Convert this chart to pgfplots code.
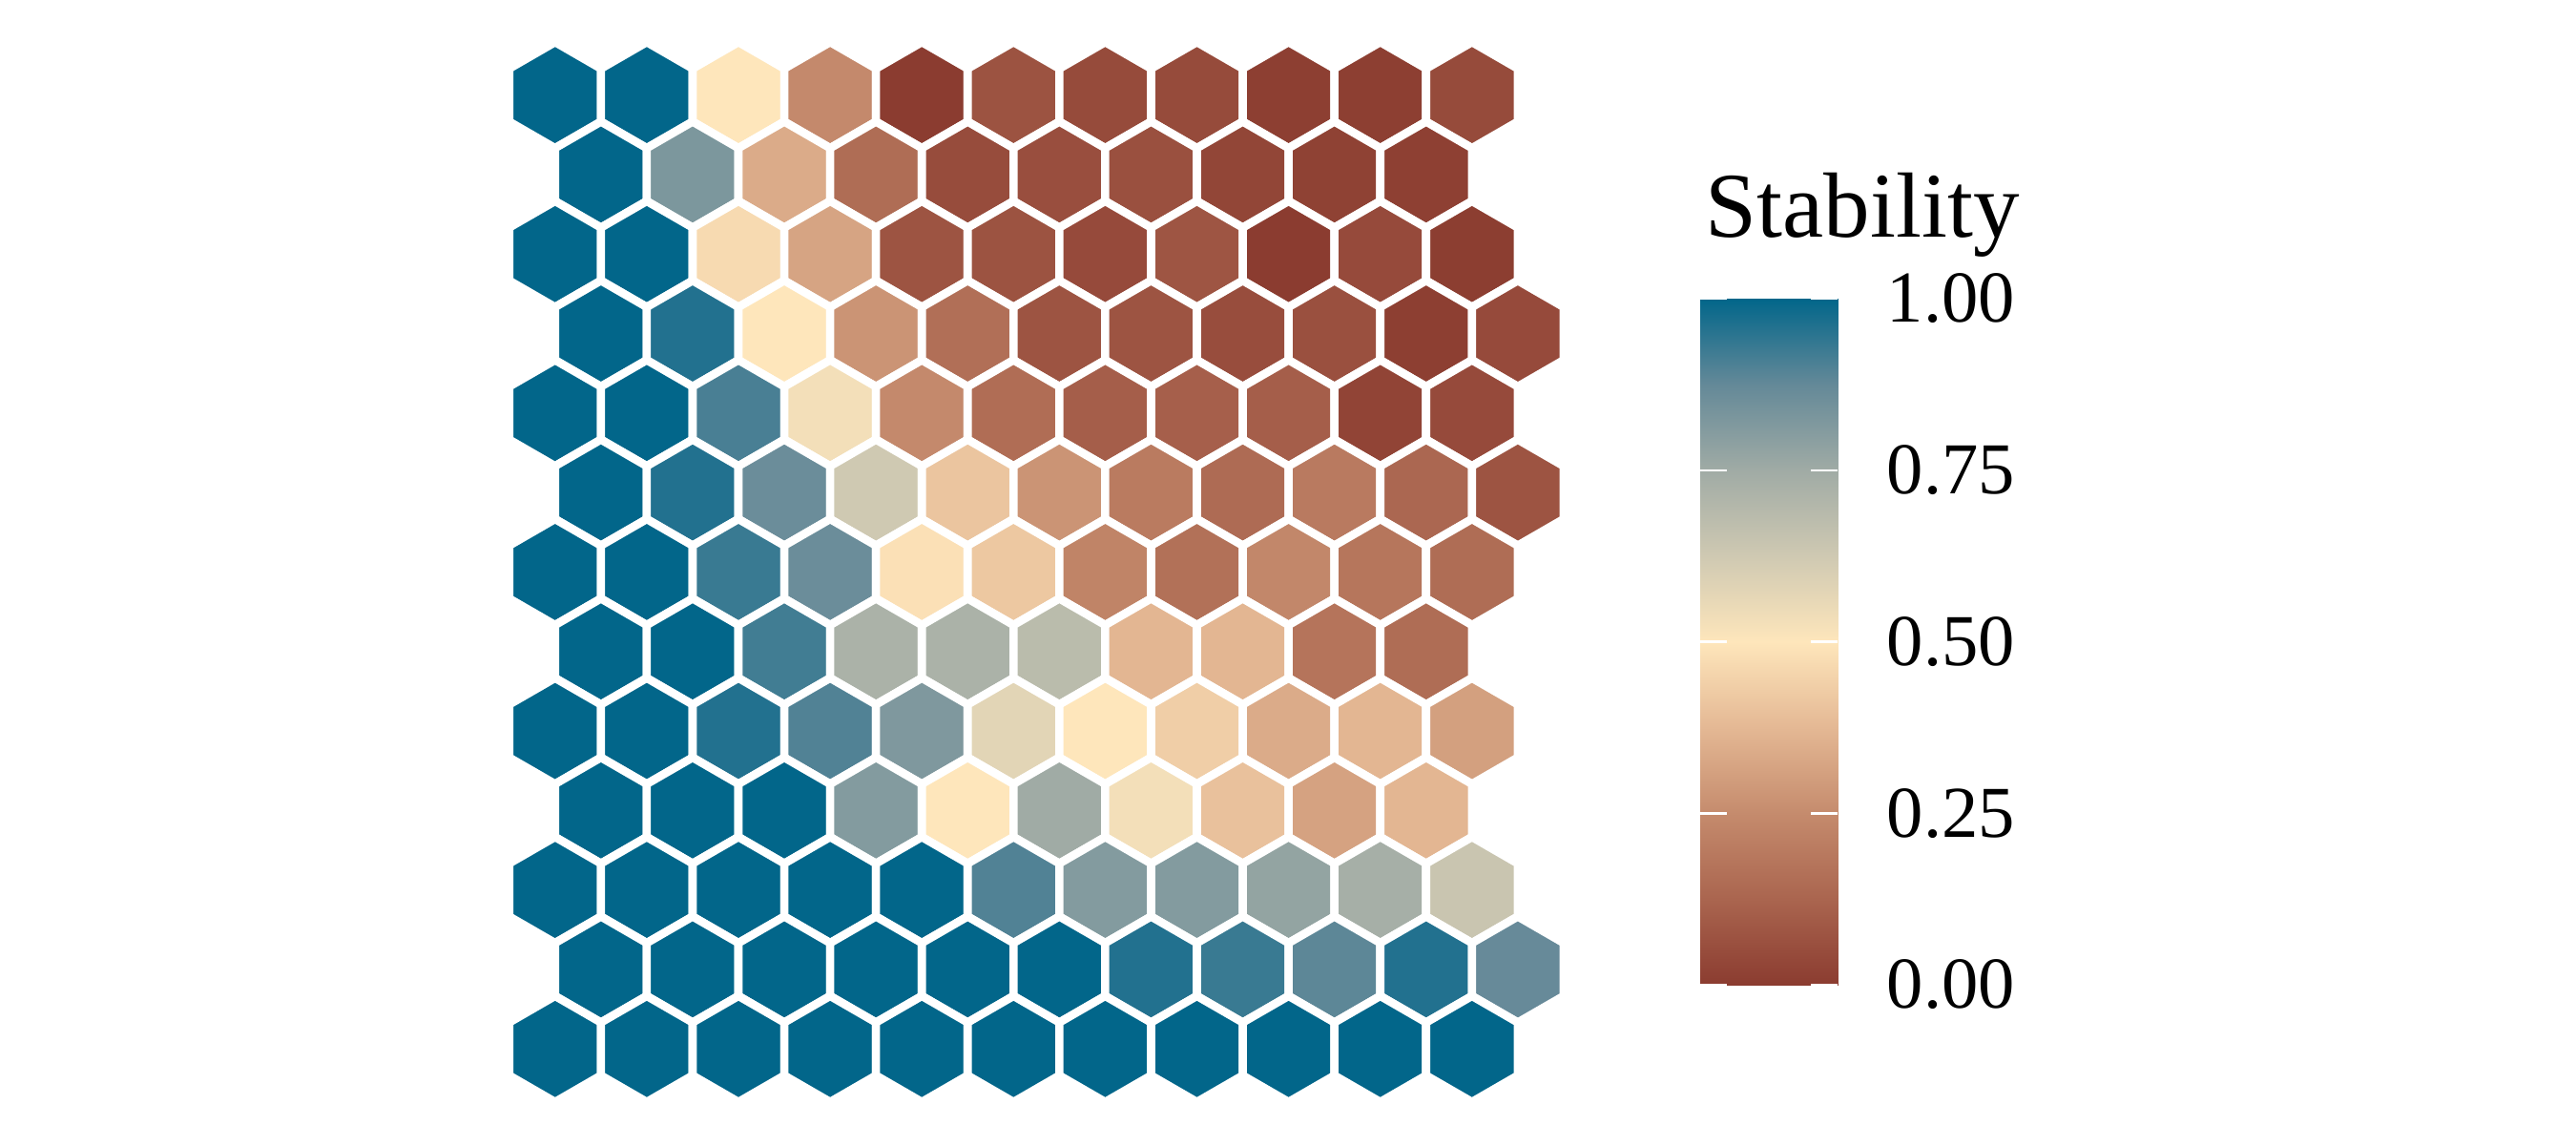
\documentclass[border=0pt]{standalone}
\usepackage{fontspec}
\setmainfont{Liberation Serif}
\usepackage{pgfplots}
\pgfplotsset{compat=1.18}
\usepackage{pgfplotstable}

\pgfdeclareplotmark{hexa}{%
  \pgfpathmoveto{\pgfpointpolar{90}{\pgfplotmarksize}}%
  \pgfpathlineto{\pgfpointpolar{150}{\pgfplotmarksize}}%
  \pgfpathlineto{\pgfpointpolar{210}{\pgfplotmarksize}}%
  \pgfpathlineto{\pgfpointpolar{270}{\pgfplotmarksize}}%
  \pgfpathlineto{\pgfpointpolar{330}{\pgfplotmarksize}}%
  \pgfpathlineto{\pgfpointpolar{30}{\pgfplotmarksize}}%
  \pgfpathclose
  \pgfusepathqfillstroke
}

\pgfplotsset{colormap={stab}{rgb255=(139,60,48) rgb255=(170,101,79) rgb255=(197,139,109) rgb255=(228,184,148) rgb255=(254,230,187) rgb255=(207,201,178) rgb255=(160,171,165) rgb255=(100,137,152) rgb255=(2,102,138)}}

\pgfplotstableread{
x y v
1 13 1
2 13 1
3 13 0.5
4 13 0.245
5 13 0
6 13 0.07
7 13 0.045
8 13 0.045
9 13 0.01
10 13 0.01
11 13 0.045
1.5 12 1
2.5 12 0.825
3.5 12 0.34
4.5 12 0.15
5.5 12 0.05
6.5 12 0.055
7.5 12 0.06
8.5 12 0.03
9.5 12 0.018
10.5 12 0.012
1 11 1
2 11 1
3 11 0.467
4 11 0.32
5 11 0.073
6 11 0.07
7 11 0.043
8 11 0.076
9 11 0
10 11 0.043
11 11 0.005
1.5 10 1
2.5 10 0.96
3.5 10 0.5
4.5 10 0.275
5.5 10 0.158
6.5 10 0.073
7.5 10 0.073
8.5 10 0.052
9.5 10 0.061
10.5 10 0.01
11.5 10 0.043
1 9 1
2 9 1
3 9 0.91
4 9 0.53
5 9 0.245
6 9 0.152
7 9 0.104
8 9 0.107
9 9 0.104
10 9 0.024
11 9 0.043
1.5 8 1
2.5 8 0.96
3.5 8 0.86
4.5 8 0.625
5.5 8 0.41
6.5 8 0.275
7.5 8 0.197
8.5 8 0.145
9.5 8 0.195
10.5 8 0.132
11.5 8 0.073
1 7 1
2 7 1
3 7 0.93
4 7 0.86
5 7 0.484
6 7 0.418
7 7 0.227
8 7 0.164
9 7 0.237
10 7 0.181
11 7 0.15
1.5 6 1
2.5 6 1
3.5 6 0.92
4.5 6 0.72
5.5 6 0.72
6.5 6 0.68
7.5 6 0.37
8.5 6 0.37
9.5 6 0.174
10.5 6 0.15
1 5 1
2 5 1
3 5 0.96
4 5 0.9
5 5 0.82
6 5 0.574
7 5 0.5
8 5 0.435
9 5 0.34
10 5 0.37
11 5 0.308
1.5 4 1
2.5 4 1
3.5 4 1
4.5 4 0.81
5.5 4 0.5
6.5 4 0.75
7.5 4 0.53
8.5 4 0.4
9.5 4 0.314
10.5 4 0.37
1 3 1
2 3 1
3 3 1
4 3 1
5 3 1
6 3 0.9
7 3 0.81
8 3 0.81
9 3 0.777
10 3 0.734
11 3 0.641
1.5 2 1
2.5 2 1
3.5 2 1
4.5 2 1
5.5 2 1
6.5 2 1
7.5 2 0.96
8.5 2 0.93
9.5 2 0.884
10.5 2 0.96
11.5 2 0.87
1 1 1
2 1 1
3 1 1
4 1 1
5 1 1
6 1 1
7 1 1
8 1 1
9 1 1
10 1 1
11 1 1
}\hexdata

\begin{document}
\begin{tikzpicture}
\useasboundingbox (0,0) rectangle (270mm,120mm);
\begin{axis}[
  at={(48.57mm,1.74mm)}, anchor=south west,
  x=9.61mm, y=8.33mm,
  xmin=0, xmax=12, ymin=0, ymax=14,
  hide axis, clip=false,
  colormap name=stab, point meta min=0, point meta max=1]
\addplot[scatter, only marks, mark=hexa, mark size=5.55mm,
  scatter/use mapped color={draw=white, fill=mapped color},
  mark options={line width=0.86mm},
  point meta=\thisrow{v}] table[x=x, y=y] {\hexdata};
\end{axis}
\begin{axis}[
  at={(178.2mm,16.8mm)}, anchor=south west,
  x=14.4mm, y=71.9mm,
  xmin=0, xmax=1, ymin=0, ymax=1,
  axis on top,
  axis line style={draw=none},
  xtick=\empty,
  ytick={0,0.25,0.5,0.75,1},
  yticklabels={0.00,0.25,0.50,0.75,1.00},
  ytick pos=both, yticklabel pos=right,
  tick align=inside, major tick length=2.8mm,
  tick style={white, line width=0.25mm},
  yticklabel style={anchor=west, inner sep=0pt, xshift=5.1mm, font=\fontsize{21.8}{26}\selectfont},
  colormap name=stab, point meta min=0, point meta max=1]
\addplot[surf, shader=interp, point meta=y, mesh/cols=2] coordinates {(0,0) (1,0) (0,1) (1,1)};
\end{axis}
\node[anchor=base west, inner sep=0pt, font=\fontsize{27.6}{33}\selectfont] at (178.7mm,95.1mm) {Stability};
\end{tikzpicture}
\end{document}
